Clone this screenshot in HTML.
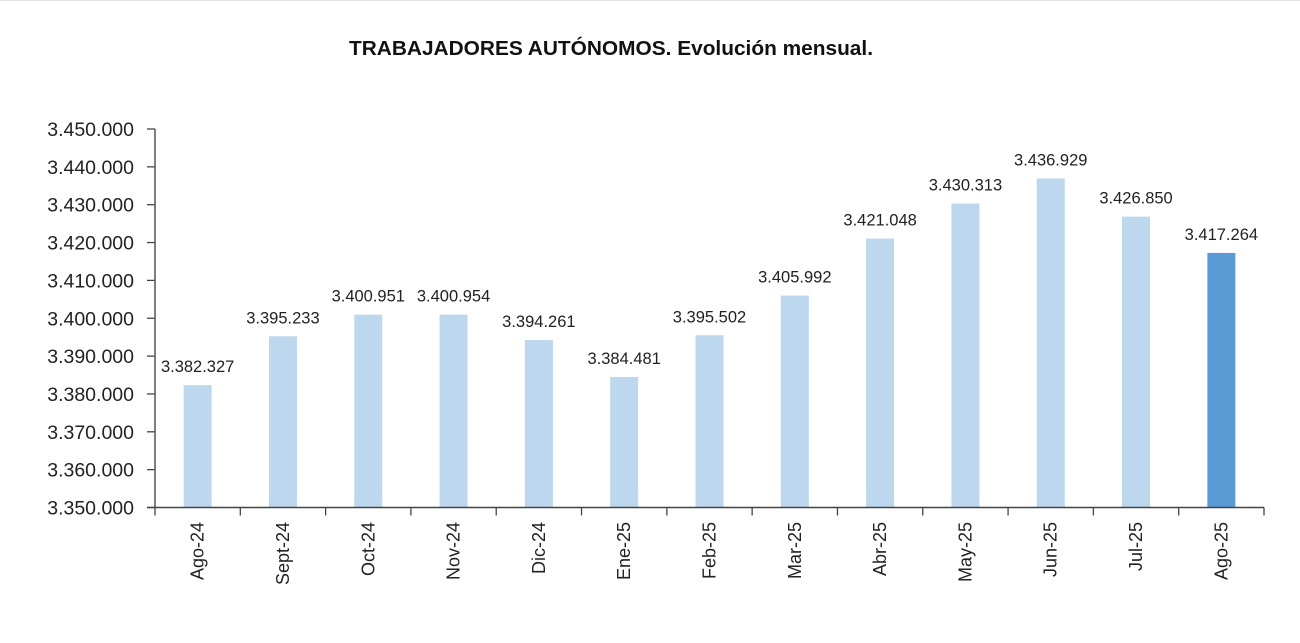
<!DOCTYPE html>
<html><head><meta charset="utf-8"><style>
html,body{margin:0;padding:0;background:#fff;}
svg{display:block;font-family:"Liberation Sans",Arial,sans-serif;}
</style></head><body>
<svg id="chart" width="1300" height="643" viewBox="0 0 1300 643">
<line x1="0" y1="0.5" x2="1300" y2="0.5" stroke="#e4e4e4"/>
<text x="349" y="55" font-size="20" font-weight="bold" fill="#111" textLength="524" lengthAdjust="spacingAndGlyphs">TRABAJADORES AUTÓNOMOS. Evolución mensual.</text>
<g id="plot"></g>
</svg>
<script>
const categories = ["Ago-24","Sept-24","Oct-24","Nov-24","Dic-24","Ene-25","Feb-25","Mar-25","Abr-25","May-25","Jun-25","Jul-25","Ago-25"];
const values = [3382327,3395233,3400951,3400954,3394261,3384481,3395502,3405992,3421048,3430313,3436929,3426850,3417264];
const yTicks = [3350000,3360000,3370000,3380000,3390000,3400000,3410000,3420000,3430000,3440000,3450000];

const X0=155, X1=1264, Y0=507.5, Y1=129, YMIN=3350000, YMAX=3450000;
const band=(X1-X0)/categories.length;
const y=v=>Y0-(v-YMIN)/(YMAX-YMIN)*(Y0-Y1);
const xc=i=>X0+band*(i+0.5);
const fmt=v=>String(v).replace(/\B(?=(\d{3})+(?!\d))/g,".");
const NS="http://www.w3.org/2000/svg";
const g=document.getElementById("plot");
function mk(tag,attrs){const e=document.createElementNS(NS,tag);for(const k in attrs)e.setAttribute(k,attrs[k]);g.appendChild(e);return e;}

yTicks.forEach(t=>{
  const l=mk("line",{x1:X0-8,x2:X0,y1:y(t),y2:y(t),stroke:"#444","stroke-width":1.3});
  
  
  const tx=mk("text",{x:X0-21,y:y(t)+7,"font-size":19.5,"text-anchor":"end",fill:"#222"});
  tx.textContent=fmt(t);
  
  
});
values.forEach((v,i)=>{
  const cx=xc(i);
  const r=mk("rect",{x:cx-14,y:y(v),width:28,height:Y0-y(v),fill:i===values.length-1?"#5b9bd5":"#bdd7ee"});
  
  
  const lb=mk("text",{x:cx,y:y(v)-13,"font-size":16.5,"text-anchor":"middle",fill:"#222"});
  lb.textContent=fmt(v);
  
  
  const cl=mk("text",{transform:`translate(${cx+6},522) rotate(-90)`,"font-size":18,"text-anchor":"end",fill:"#222"});
  cl.textContent=categories[i];
  
  
});
for(let i=0;i<=categories.length;i++){
  const x=X0+band*i;
  const t=mk("line",{x1:x,x2:x,y1:Y0,y2:Y0+8,stroke:"#444","stroke-width":1.3});
  
  
}
const ya=mk("line",{x1:X0,x2:X0,y1:Y1,y2:Y0,stroke:"#555","stroke-width":1.5});


const xa=mk("line",{x1:X0-8,x2:X1,y1:Y0,y2:Y0,stroke:"#444","stroke-width":1.5});


</script>
</body></html>
